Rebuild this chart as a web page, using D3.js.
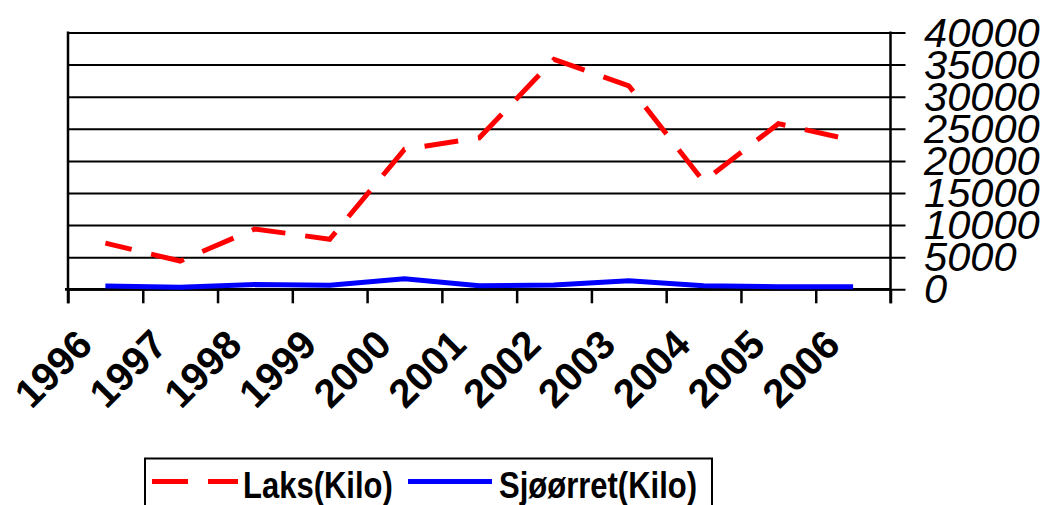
<!DOCTYPE html>
<html>
<head>
<meta charset="utf-8">
<script src="https://cdn.jsdelivr.net/npm/d3@7"></script>
<style>
  body { margin: 0; background: #fff; }
  svg { display: block; font-family: "Liberation Sans", Arial, sans-serif; }
</style>
</head>
<body>
<svg id="chart" width="1046" height="505"></svg>
<script>
// data
const years = ['1996', '1997', '1998', '1999', '2000', '2001', '2002', '2003', '2004', '2005', '2006']
const laks = [7200, 4400, 9400, 7800, 21800, 23600, 35800, 31700, 16800, 25800, 23200]
const sjoorret = [520, 310, 730, 630, 1660, 560, 670, 1340, 560, 400, 400]
const yTicks = [0, 5000, 10000, 15000, 20000, 25000, 30000, 35000, 40000]
const seriesNames = ['Laks(Kilo)', 'Sjøørret(Kilo)']

const svg = d3.select('#chart')
const plotL = 68, plotR = 890.5, plotT = 32.5, plotB = 289.3

const x = d3.scaleBand().domain(years).range([plotL, plotR]).padding(0)
const xEdge = d3.scaleLinear().domain([0, years.length]).range([plotL, plotR])
const y = d3.scaleLinear().domain([0, 40000]).range([plotB, plotT])

// gridlines + right ticks
const grid = svg.append('g')
  .attr('transform', `translate(${plotL},0)`)
  .call(d3.axisRight(y).tickValues(yTicks).tickSize(plotR - plotL + 15).tickFormat(''))
grid.select('.domain').remove()
grid.selectAll('line').attr('stroke', '#000').attr('stroke-width', 2)

// axes lines
svg.append('line').attr('x1', plotL).attr('x2', plotL).attr('y1', plotT - 1).attr('y2', plotB + 14)
  .attr('stroke', '#000').attr('stroke-width', 2.5)
svg.append('line').attr('x1', plotR).attr('x2', plotR).attr('y1', plotT - 1).attr('y2', plotB + 14)
  .attr('stroke', '#000').attr('stroke-width', 2.5)

// bottom axis with ticks at band edges
const xa = svg.append('g')
  .attr('transform', `translate(0,${plotB})`)
  .call(d3.axisBottom(xEdge).ticks(years.length).tickSize(14).tickFormat(''))
xa.select('.domain').attr('stroke', '#000').attr('stroke-width', 2.8)
  .attr('d', `M${plotL - 3},0H${plotR}`)
xa.selectAll('line').attr('stroke', '#000').attr('stroke-width', 2.5)

// right labels
svg.append('g').selectAll('text')
  .data(yTicks)
  .enter()
  .append('text')
  .attr('transform', d => `translate(924,${y(d) + 14}) scale(1.04,1)`)
  .attr('font-size', 40)
  .attr('font-style', 'italic')
  .attr('fill', '#000')
  .text(d => d)

// x labels, rotated
svg.append('g').selectAll('text')
  .data(years)
  .enter()
  .append('text')
  .attr('transform', d => `translate(${x(d) + x.bandwidth() / 2 - 11},347) rotate(-45)`)
  .attr('text-anchor', 'end')
  .attr('font-size', 40)
  .attr('font-weight', 'bold')
  .attr('fill', '#000')
  .text(d => d)

// lines
const line = d3.line()
  .x((d, i) => x(years[i]) + x.bandwidth() / 2)
  .y(d => y(d))

svg.append('path')
  .datum(sjoorret)
  .attr('d', line)
  .attr('fill', 'none')
  .attr('stroke', '#0000ff')
  .attr('stroke-width', 5)
  .attr('stroke-linejoin', 'miter')

svg.append('path')
  .datum(laks)
  .attr('d', line)
  .attr('fill', 'none')
  .attr('stroke', '#ff0000')
  .attr('stroke-width', 5)
  .attr('stroke-linejoin', 'miter')
  .attr('stroke-dasharray', '34 20')
  .attr('stroke-dashoffset', 7)

// legend
const lg = svg.append('g')
lg.append('rect').attr('x', 145).attr('y', 458.5).attr('width', 567).attr('height', 70)
  .attr('fill', '#fff').attr('stroke', '#000').attr('stroke-width', 2)
lg.append('line').attr('x1', 152).attr('x2', 238).attr('y1', 481.5).attr('y2', 481.5)
  .attr('stroke', '#ff0000').attr('stroke-width', 5).attr('stroke-dasharray', '36 20')
lg.append('line').attr('x1', 408).attr('x2', 492).attr('y1', 481.5).attr('y2', 481.5)
  .attr('stroke', '#0000ff').attr('stroke-width', 5)
lg.selectAll('text.leg')
  .data(seriesNames)
  .enter()
  .append('text')
  .attr('class', 'leg')
  .attr('transform', (d, i) => `translate(${i === 0 ? 243 : 499},498) scale(1,1.2)`)
  .attr('font-size', 31)
  .attr('font-weight', 'bold')
  .attr('fill', '#000')
  .text(d => d)
</script>
</body>
</html>
